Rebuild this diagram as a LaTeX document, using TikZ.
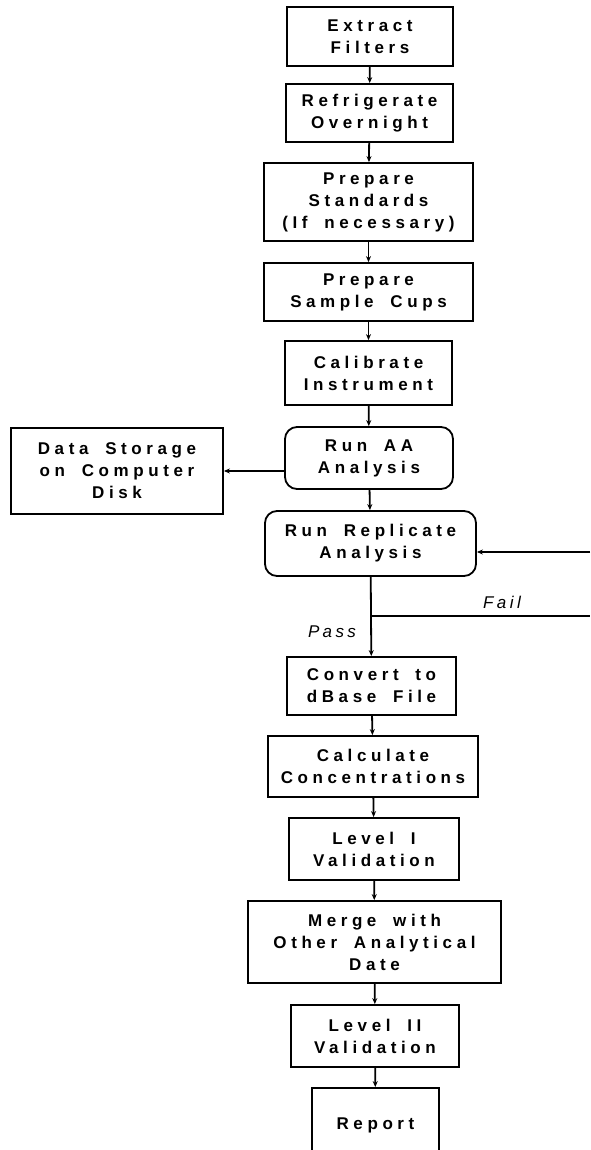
\documentclass[tikz,border=0pt]{standalone}
\usepackage{fontspec}
\setmainfont{Liberation Sans}[LetterSpace=20]
\newfontfamily\boxfont{Liberation Sans}[LetterSpace=27,WordSpace=1.8]
\usetikzlibrary{arrows.meta,positioning}

\begin{document}
\begin{tikzpicture}[x=1pt,y=-1pt,
  stepbox/.style={draw,line width=1.8pt,align=center,inner sep=0pt,font={\boxfont\bfseries\fontsize{17}{22}\selectfont}},
  runbox/.style={stepbox,rounded corners=12pt},
  flow/.style={line width=1.8pt,-{Stealth[length=6pt,width=5pt]}},
  lbl/.style={font=\itshape\fontsize{17}{20}\selectfont}]
\useasboundingbox (0,0) rectangle (590,1150);
% main column
\node[stepbox,minimum width=166,minimum height=59] (ext) at (370,36.5) {Extract\\Filters};
\node[stepbox,minimum width=167,minimum height=58] (ref) at (369.5,113) {Refrigerate\\Overnight};
\node[stepbox,minimum width=209,minimum height=78] (std) at (368.5,202) {Prepare\\Standards\\(If necessary)};
\node[stepbox,minimum width=209,minimum height=58] (cups) at (368.5,292) {Prepare\\Sample Cups};
\node[stepbox,minimum width=167,minimum height=64] (cal) at (368.5,373) {Calibrate\\Instrument};
\node[runbox,minimum width=168,minimum height=62] (runaa) at (369,458) {Run AA\\Analysis};
\node[stepbox,minimum width=212,minimum height=86] (store) at (117,471) {Data Storage\\on Computer\\Disk};
\node[runbox,minimum width=211,minimum height=65] (rep) at (370.5,543.5) {Run Replicate\\Analysis};
\node[stepbox,minimum width=169,minimum height=58] (conv) at (371.5,686) {Convert to\\dBase File};
\node[stepbox,minimum width=210,minimum height=61] (calc) at (373,766.5) {Calculate\\Concentrations};
\node[stepbox,minimum width=170,minimum height=62] (lev1) at (374,849) {Level I\\Validation};
\node[stepbox,minimum width=253,minimum height=82] (merge) at (374.5,942) {Merge with\\Other Analytical\\Date};
\node[stepbox,minimum width=168,minimum height=62] (lev2) at (375,1036) {Level II\\Validation};
\node[stepbox,minimum width=127,minimum height=74] (rep2) at (375.5,1125) {Report};
% loop back from the right
\coordinate (back) at (590,552); \coordinate (failend) at (590,616);
\node[lbl] (fail) at (502,602) {Fail}; \node[lbl] (pass) at (332,632) {Pass};
% connectors
\draw[flow] (ext) -- (ref); \draw[flow] (ref) -- (std); \draw[flow] (std) -- (cups);
\draw[flow] (cups) -- (cal); \draw[flow] (cal) -- (runaa); \draw[flow] (runaa) -- (rep);
\draw[flow] (runaa.west |- store) -- (store.east);
\draw[flow] (back) -- (rep.east |- back);
\draw[flow] (rep) -- (conv);
\draw[line width=1.8pt] (rep.south |- failend) -- (failend);
\draw[flow] (conv) -- (calc); \draw[flow] (calc) -- (lev1); \draw[flow] (lev1) -- (merge);
\draw[flow] (merge) -- (lev2); \draw[flow] (lev2) -- (rep2);
\end{tikzpicture}
\end{document}
